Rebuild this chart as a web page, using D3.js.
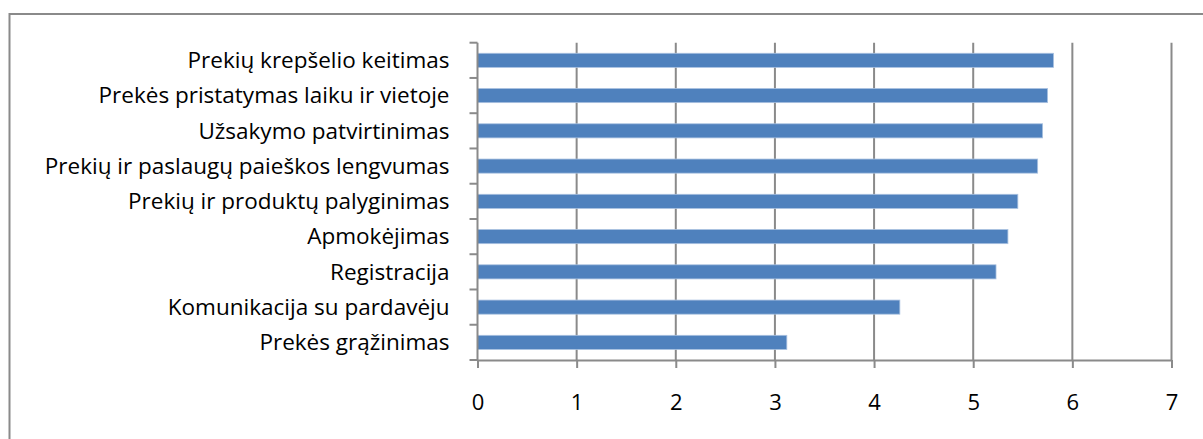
<!DOCTYPE html>
<html>
<head>
<meta charset="utf-8">
<script src="https://cdn.jsdelivr.net/npm/d3@7"></script>
<style>
  html, body { margin: 0; padding: 0; background: #fff; }
  svg { display: block; }
  text { font-family: "Open Sans", "Noto Sans", sans-serif; fill: #000; }
</style>
</head>
<body>
<div id="chart"></div>
<script>
// categories top to bottom
const categories = [
  'Prekių krepšelio keitimas',
  'Prekės pristatymas laiku ir vietoje',
  'Užsakymo patvirtinimas',
  'Prekių ir paslaugų paieškos lengvumas',
  'Prekių ir produktų palyginimas',
  'Apmokėjimas',
  'Registracija',
  'Komunikacija su pardavėju',
  'Prekės grąžinimas'
];
const values = [5.81, 5.75, 5.70, 5.65, 5.45, 5.35, 5.23, 4.26, 3.12];
const xTicks = [0, 1, 2, 3, 4, 5, 6, 7];

const width = 1203, height = 439;
const margin = { top: 42.7, right: 31.5, bottom: 79, left: 477.5 };
const grey = '#8a8a8a';

const svg = d3.select('#chart').append('svg')
  .attr('width', width)
  .attr('height', height);

// outer chart border (runs off the right and bottom edge)
svg.append('rect')
  .attr('x', 9.5).attr('y', 14)
  .attr('width', width).attr('height', height)
  .attr('fill', 'none')
  .attr('stroke', grey)
  .attr('stroke-width', 2);

const x = d3.scaleLinear()
  .domain([0, 7])
  .range([margin.left, width - margin.right]);

const y = d3.scaleBand()
  .domain(categories)
  .range([margin.top, height - margin.bottom])
  .paddingInner(0.6)
  .paddingOuter(0.3);

const yOuter = d3.scaleBand()
  .domain(categories)
  .range([margin.top, height - margin.bottom]);

// vertical gridlines
svg.append('g')
  .selectAll('line')
  .data(xTicks.slice(1))
  .join('line')
  .attr('x1', d => x(d)).attr('x2', d => x(d))
  .attr('y1', margin.top).attr('y2', height - margin.bottom)
  .attr('stroke', grey)
  .attr('stroke-width', 2);

// bars
svg.append('g')
  .selectAll('rect')
  .data(values)
  .join('rect')
  .attr('x', x(0))
  .attr('y', (d, i) => y(categories[i]))
  .attr('width', d => x(d) - x(0))
  .attr('height', y.bandwidth())
  .attr('fill', '#4f81bd')
  .attr('stroke', '#a9c1e0')
  .attr('stroke-width', 0.8);

// x axis
const xAxis = svg.append('g')
  .attr('transform', `translate(0,${height - margin.bottom})`)
  .call(d3.axisBottom(x).tickValues(xTicks).tickFormat(d3.format('d')).tickSizeInner(8).tickSizeOuter(0));
xAxis.select('.domain').attr('stroke', grey).attr('stroke-width', 2);
xAxis.selectAll('.tick line').attr('stroke', grey).attr('stroke-width', 2);
xAxis.selectAll('.tick text')
  .attr('y', 42)
  .attr('dy', '0.35em')
  .attr('font-size', 22)
  .attr('font-family', '"Open Sans", "Noto Sans", sans-serif')
  .attr('fill', '#000');

// y axis line with ticks on band boundaries
const yg = svg.append('g');
yg.append('line')
  .attr('x1', x(0)).attr('x2', x(0))
  .attr('y1', margin.top).attr('y2', height - margin.bottom)
  .attr('stroke', grey).attr('stroke-width', 2);
yg.selectAll('line.tk')
  .data(categories.concat(['end']))
  .join('line')
  .attr('class', 'tk')
  .attr('x1', x(0) - 8).attr('x2', x(0))
  .attr('y1', (d, i) => margin.top + i * yOuter.step())
  .attr('y2', (d, i) => margin.top + i * yOuter.step())
  .attr('stroke', grey).attr('stroke-width', 2);

// category labels
yg.selectAll('text')
  .data(categories)
  .join('text')
  .attr('x', x(0) - 28)
  .attr('y', d => yOuter(d) + yOuter.bandwidth() / 2)
  .attr('dy', '0.35em')
  .attr('text-anchor', 'end')
  .attr('font-size', 22.5)
  .text(d => d);
</script>
</body>
</html>
